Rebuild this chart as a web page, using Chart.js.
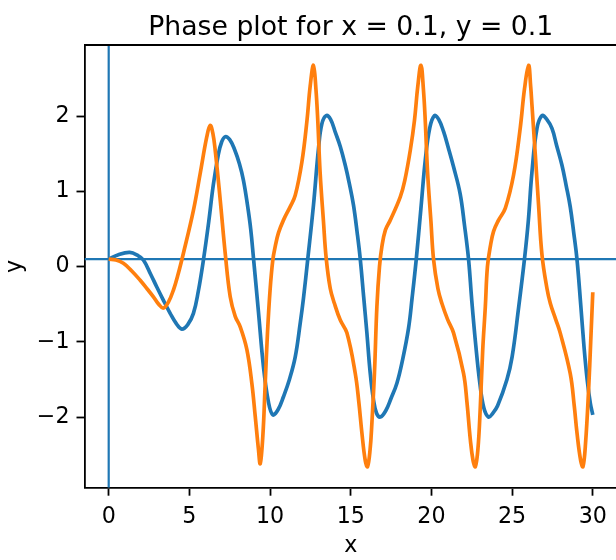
<!DOCTYPE html>
<html>
<head>
<meta charset="utf-8">
<title>Phase plot</title>
<script src="https://cdn.jsdelivr.net/npm/chart.js"></script>
<style>
  html, body { margin: 0; padding: 0; overflow: hidden; background: #fff; }
  #wrap { width: 616px; height: 560px; overflow: hidden; }
</style>
</head>
<body>
<div id="wrap"><canvas id="phaseChart" width="620" height="560"></canvas></div>
<script>
// values
var titleText = 'Phase plot for x = 0.1, y = 0.1';
var startY = 0.1;   // horizontal guide line
var guideX = 0;     // vertical guide line
var xTicks = [0, 5, 10, 15, 20, 25, 30];
var yTicks = [-2, -1, 0, 1, 2];

// blue curve
var tBlue = [0, 0.6, 1.3, 1.8, 2.15, 2.6, 2.98, 3.4, 3.81, 4.2, 4.53, 4.9, 5.25, 5.55, 5.87,
  6.2, 6.49, 6.8, 7.0, 7.22, 7.5, 7.8, 8.1, 8.35, 8.6, 8.8, 8.97, 9.28, 9.59, 9.9, 10.17,
  10.5, 10.83, 11.2, 11.56, 11.87, 12.07, 12.34, 12.69, 13.0, 13.21, 13.48, 13.75, 14.04, 14.35, 14.66,
  14.9, 15.17, 15.4, 15.59, 15.8, 16.0, 16.2, 16.41, 16.6, 16.83, 17.16, 17.5, 17.86, 18.2, 18.58,
  18.8, 19.06, 19.35, 19.62, 19.9, 20.19, 20.45, 20.75, 21.05, 21.37, 21.78, 22.05, 22.3, 22.5, 22.75,
  23.0, 23.25, 23.54, 23.8, 24.1, 24.68, 25.0, 25.4, 25.77, 26.0, 26.23, 26.54, 26.85, 27.15, 27.47,
  27.75, 28.09, 28.35, 28.6, 28.82, 29.02, 29.25, 29.45, 29.65, 29.85, 30.0];
var vBlue = [0.1, 0.16, 0.19, 0.15, 0.09, -0.1, -0.27, -0.45, -0.62, -0.76, -0.83, -0.77, -0.62, -0.33, 0.09,
  0.6, 1.1, 1.5, 1.66, 1.73, 1.69, 1.56, 1.37, 1.15, 0.82, 0.5, 0.12, -0.6, -1.33, -1.8, -1.97,
  -1.9, -1.73, -1.5, -1.2, -0.75, -0.42, 0.11, 0.82, 1.57, 1.9, 2.01, 1.96, 1.79, 1.6, 1.35,
  1.12, 0.82, 0.45, 0.1, -0.4, -0.88, -1.4, -1.77, -1.95, -2.0, -1.92, -1.75, -1.55, -1.25, -0.82,
  -0.42, 0.1, 0.78, 1.42, 1.85, 2.01, 1.96, 1.8, 1.58, 1.33, 0.97, 0.55, 0.1, -0.45, -1.05,
  -1.55, -1.88, -2.0, -1.95, -1.85, -1.5, -1.2, -0.55, 0.11, 0.6, 1.26, 1.84, 2.01, 1.96, 1.84,
  1.62, 1.35, 1.08, 0.8, 0.45, 0.1, -0.5, -1.05, -1.5, -1.82, -1.97];

// orange curve
var tOrange = [0, 0.45, 0.91, 1.4, 1.95, 2.4, 2.77, 3.1, 3.39, 3.7, 4.01, 4.3, 4.63, 5.25, 5.67,
  6.08, 6.29, 6.45, 6.6, 6.91, 7.22, 7.53, 7.84, 8.15, 8.56, 8.87, 9.08, 9.28, 9.39, 9.55,
  9.7, 9.84, 10.0, 10.17, 10.32, 10.52, 10.83, 11.25, 11.56, 11.97, 12.28, 12.49, 12.69, 12.84, 12.96,
  13.1, 13.31, 13.48, 13.73, 13.99, 14.35, 14.76, 15.28, 15.5, 15.69, 15.9, 16.04, 16.2, 16.31, 16.47,
  16.62, 16.78, 16.93, 17.15, 17.45, 18.07, 18.35, 18.69, 18.95, 19.15, 19.35, 19.5, 19.62, 19.76, 19.97,
  20.13, 20.4, 20.65, 21.0, 21.37, 21.99, 22.2, 22.41, 22.58, 22.72, 22.88, 23.03, 23.18, 23.34, 23.47,
  23.65, 23.85, 24.16, 24.58, 25.09, 25.5, 25.77, 26.02, 26.15, 26.23, 26.44, 26.64, 26.85, 27.16, 27.37,
  27.7, 27.98, 28.6, 28.85, 29.02, 29.25, 29.39, 29.55, 29.74, 29.87, 30.0];
var vOrange = [0.1, 0.09, 0.045, -0.05, -0.18, -0.3, -0.4, -0.5, -0.55, -0.47, -0.31, -0.1, 0.18, 0.75, 1.24,
  1.73, 1.88, 1.78, 1.55, 0.89, 0.18, -0.4, -0.66, -0.8, -1.1, -1.55, -1.99, -2.43, -2.62, -2.26,
  -1.55, -0.88, -0.31, 0.09, 0.27, 0.45, 0.62, 0.8, 0.95, 1.39, 1.93, 2.41, 2.68, 2.37, 1.93,
  1.26, 0.6, 0.11, -0.29, -0.49, -0.71, -0.88, -1.42, -1.8, -2.21, -2.58, -2.66, -2.43, -2.08, -1.41,
  -0.53, 0.0, 0.27, 0.49, 0.62, 0.93, 1.15, 1.55, 1.95, 2.39, 2.68, 2.37, 1.93, 1.26, 0.6,
  0.1, -0.29, -0.49, -0.7, -0.88, -1.42, -1.8, -2.3, -2.58, -2.66, -2.43, -1.86, -1.1, -0.53, 0.0,
  0.27, 0.47, 0.62, 0.78, 1.22, 1.84, 2.37, 2.68, 2.4, 2.15, 1.48, 0.82, 0.16, -0.29, -0.49,
  -0.7, -0.88, -1.42, -1.85, -2.21, -2.58, -2.66, -2.35, -1.64, -1.0, -0.34];

var xMin = -1.5, xMax = 31.5, yMin = -2.94, yMax = 2.95;
var BLUE = '#1f77b4', ORANGE = '#ff7f0e';
var tickFont = { family: 'DejaVu Sans', size: 22.2 };

function pts(ts, vs) {
    return ts.map(function (t, i) { return { x: t, y: vs[i] }; });
}
function fmt(v) {
    return v < 0 ? '\u2212' + Math.abs(v) : String(v);
}

// title and the top / right spines
var framePlugin = {
    id: 'frame',
    afterDraw: function (chart) {
        var a = chart.chartArea, c = chart.ctx;
        c.save();
        c.strokeStyle = '#000';
        c.lineWidth = 1.8;
        c.beginPath();
        c.moveTo(a.left, a.top);
        c.lineTo(a.right, a.top);
        c.lineTo(a.right, a.bottom);
        c.stroke();
        c.fillStyle = '#000';
        c.font = '26.7px "DejaVu Sans"';
        c.textAlign = 'center';
        c.textBaseline = 'alphabetic';
        c.fillText(titleText, (a.left + a.right) / 2, 34.6);
        c.restore();
    }
};

Chart.defaults.font.family = 'DejaVu Sans';
Chart.defaults.color = '#000';

var ctx = document.getElementById('phaseChart').getContext('2d');
var chart = new Chart(ctx, {
    type: 'line',
    data: {
        datasets: [{
            data: pts(tOrange, vOrange),
            borderColor: ORANGE,
            borderWidth: 3.7,
            tension: 0.4,
            order: 0
        }, {
            data: pts(tBlue, vBlue),
            borderColor: BLUE,
            borderWidth: 3.7,
            tension: 0.4,
            order: 1
        }, {
            data: [{ x: xMin, y: startY }, { x: xMax, y: startY }],
            borderColor: BLUE,
            borderWidth: 2.2,
            tension: 0,
            order: 2
        }, {
            data: [{ x: guideX, y: yMin }, { x: guideX, y: yMax }],
            borderColor: BLUE,
            borderWidth: 2.2,
            tension: 0,
            order: 3
        }]
    },
    options: {
        responsive: false,
        animation: false,
        devicePixelRatio: 1,
        layout: { padding: { top: 45, left: 0, right: 3, bottom: 0 } },
        elements: { point: { radius: 0, hoverRadius: 0 }, line: { fill: false, borderCapStyle: 'butt', borderJoinStyle: 'round' } },
        plugins: { legend: { display: false }, tooltip: { enabled: false } },
        scales: {
            x: {
                type: 'linear',
                min: xMin,
                max: xMax,
                afterBuildTicks: function (s) { s.ticks = xTicks.map(function (v) { return { value: v }; }); },
                afterFit: function (s) { s.height = 72.3; },
                ticks: { includeBounds: false, autoSkip: false, maxRotation: 0, font: tickFont, padding: 8, color: '#000' },
                grid: { drawOnChartArea: false, drawTicks: true, tickLength: 8, tickWidth: 1.8, tickColor: '#000' },
                border: { display: true, color: '#000', width: 1.8 },
                title: { display: true, text: 'x', font: tickFont, color: '#000', padding: { top: 0, bottom: 0 } }
            },
            y: {
                type: 'linear',
                min: yMin,
                max: yMax,
                afterBuildTicks: function (s) { s.ticks = yTicks.map(function (v) { return { value: v }; }); },
                afterFit: function (s) { s.width = 84.5; },
                ticks: { includeBounds: false, autoSkip: false, font: tickFont, padding: 7, color: '#000',
                         callback: function (v) { return fmt(v); } },
                grid: { drawOnChartArea: false, drawTicks: true, tickLength: 8, tickWidth: 1.8, tickColor: '#000' },
                border: { display: true, color: '#000', width: 1.8 },
                title: { display: true, text: 'y', font: tickFont, color: '#000', padding: { top: 2, bottom: 0 } }
            }
        }
    },
    plugins: [framePlugin]
});
</script>
</body>
</html>
